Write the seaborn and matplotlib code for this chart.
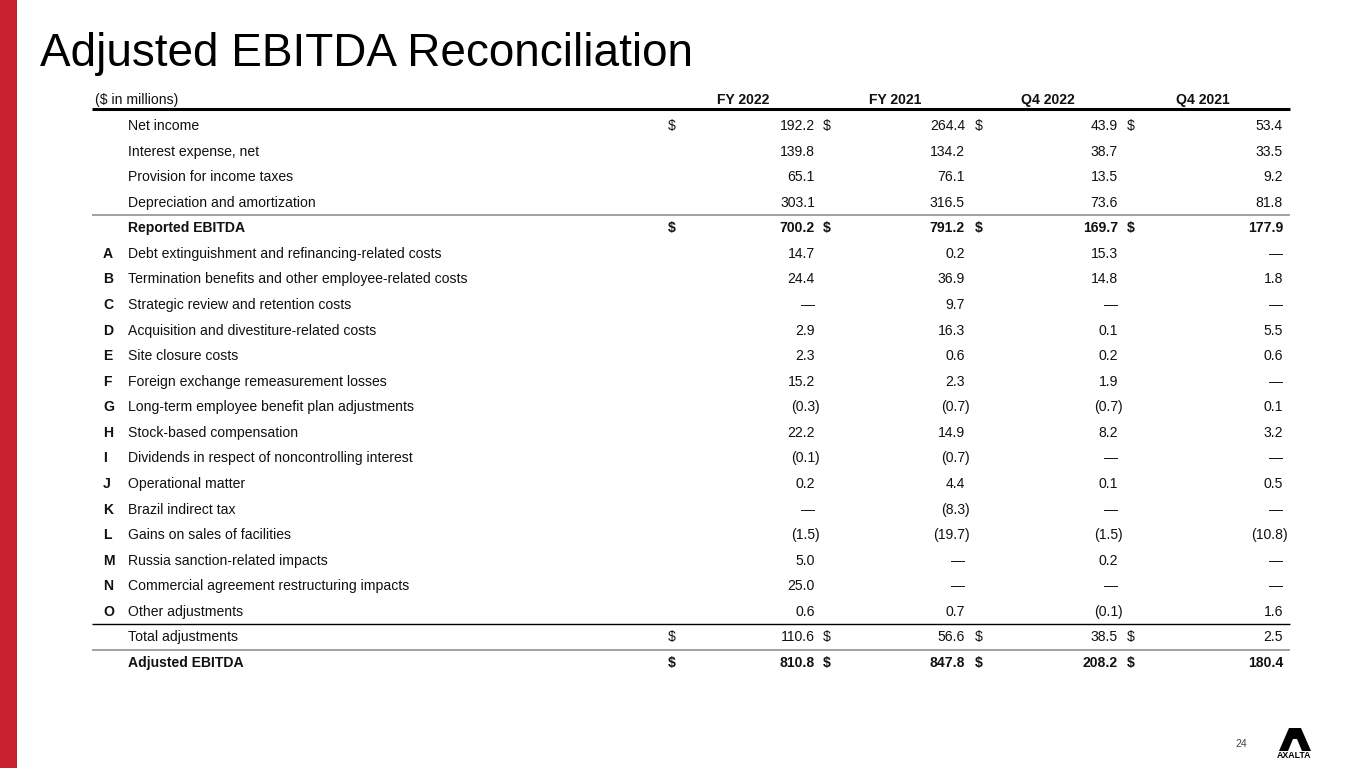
import matplotlib
matplotlib.use("Agg")
import matplotlib.pyplot as plt
import seaborn as sns
import pandas as pd
from matplotlib.patches import Rectangle, Polygon

sns.set_theme(style="white")
plt.rcParams['font.family'] = ['Liberation Sans', 'DejaVu Sans']

title = "Adjusted EBITDA Reconciliation"
unit_label = "($ in millions)"
columns = ["FY 2022", "FY 2021", "Q4 2022", "Q4 2021"]

letters = ["", "", "", "", "", "A", "B", "C", "D", "E", "F", "G", "H", "I",
           "J", "K", "L", "M", "N", "O", "", ""]
labels = [
    "Net income",
    "Interest expense, net",
    "Provision for income taxes",
    "Depreciation and amortization",
    "Reported EBITDA",
    "Debt extinguishment and refinancing-related costs",
    "Termination benefits and other employee-related costs",
    "Strategic review and retention costs",
    "Acquisition and divestiture-related costs",
    "Site closure costs",
    "Foreign exchange remeasurement losses",
    "Long-term employee benefit plan adjustments",
    "Stock-based compensation",
    "Dividends in respect of noncontrolling interest",
    "Operational matter",
    "Brazil indirect tax",
    "Gains on sales of facilities",
    "Russia sanction-related impacts",
    "Commercial agreement restructuring impacts",
    "Other adjustments",
    "Total adjustments",
    "Adjusted EBITDA",
]
fy2022 = [192.2, 139.8, 65.1, 303.1, 700.2, 14.7, 24.4, None, 2.9, 2.3, 15.2,
          -0.3, 22.2, -0.1, 0.2, None, -1.5, 5.0, 25.0, 0.6, 110.6, 810.8]
fy2021 = [264.4, 134.2, 76.1, 316.5, 791.2, 0.2, 36.9, 9.7, 16.3, 0.6, 2.3,
          -0.7, 14.9, -0.7, 4.4, -8.3, -19.7, None, None, 0.7, 56.6, 847.8]
q42022 = [43.9, 38.7, 13.5, 73.6, 169.7, 15.3, 14.8, None, 0.1, 0.2, 1.9,
          -0.7, 8.2, None, 0.1, None, -1.5, 0.2, None, -0.1, 38.5, 208.2]
q42021 = [53.4, 33.5, 9.2, 81.8, 177.9, None, 1.8, None, 5.5, 0.6, None,
          0.1, 3.2, None, 0.5, None, -10.8, None, None, 1.6, 2.5, 180.4]
dollar_rows = [0, 4, 20, 21]
bold_rows = [4, 21]

df = pd.DataFrame({"letter": letters, "label": labels,
                   columns[0]: fy2022, columns[1]: fy2021,
                   columns[2]: q42022, columns[3]: q42021})

W, H = 1365, 768
fig = plt.figure(figsize=(W / 100, H / 100), dpi=100)
ax = fig.add_axes([0, 0, 1, 1])
ax.set_xlim(0, W)
ax.set_ylim(H, 0)
ax.axis("off")

# red side bar
ax.add_patch(Rectangle((0, 0), 17, H, color="#C8202F", lw=0))

ax.text(40, 66, title, fontsize=33, color="black", ha="left", va="baseline")

fs = 10.1
txt = "#111111"
ax.text(95, 104, unit_label, fontsize=fs, ha="left", va="baseline", color=txt)
col_center = [743, 895, 1048, 1203]
col_dollar = [668, 823, 975, 1127]
col_right = [815, 965, 1118, 1283]
for c, xc in zip(columns, col_center):
    ax.text(xc, 104, c, fontsize=fs, fontweight="bold", ha="center",
            va="baseline", color=txt)

ax.plot([92, 1290], [109, 109], color="black", lw=2.2, solid_capstyle="butt")

y0, dy = 130, 25.57
for i, row in df.iterrows():
    y = y0 + i * dy
    weight = "bold" if i in bold_rows else "normal"
    if row["letter"]:
        ax.text(103, y, row["letter"], fontsize=fs, fontweight="bold",
                ha="left", va="baseline", color=txt)
    ax.text(128, y, row["label"], fontsize=fs, fontweight=weight,
            ha="left", va="baseline", color=txt)
    for j, c in enumerate(columns):
        v = row[c]
        if i in dollar_rows:
            ax.text(col_dollar[j], y, "$", fontsize=fs, fontweight=weight,
                    ha="left", va="baseline", color=txt)
        if v is None or pd.isna(v):
            ax.text(col_right[j], y, "\u2014", fontsize=fs, fontweight=weight,
                    ha="right", va="baseline", color=txt)
        elif v < 0:
            ax.text(col_right[j], y, f"({abs(v):.1f}", fontsize=fs,
                    fontweight=weight, ha="right", va="baseline", color=txt)
            ax.text(col_right[j], y, ")", fontsize=fs, fontweight=weight,
                    ha="left", va="baseline", color=txt)
        else:
            ax.text(col_right[j], y, f"{v:.1f}", fontsize=fs,
                    fontweight=weight, ha="right", va="baseline", color=txt)

def sep(after_row, color, lw):
    yy = y0 + after_row * dy + 0.5 * dy - 4.5
    ax.plot([92, 1290], [yy, yy], color=color, lw=lw, solid_capstyle="butt")

sep(3, "#9a9a9a", 1.3)
sep(19, "black", 1.0)
sep(20, "#9a9a9a", 1.3)

# page number
ax.text(1241, 747, "24", fontsize=7.5, color="#444444", ha="center", va="baseline")

# logo
ax.add_patch(Polygon([(1279, 751), (1289, 728), (1301, 728), (1311, 751),
                      (1302, 751), (1297, 739), (1293, 739), (1288, 751)],
                     closed=True, color="black", lw=0))
ax.text(1294, 757.5, "AXALTA", fontsize=6.3, fontweight="bold", ha="center",
        va="baseline", color="black")

fig.savefig("out.png", dpi=100)
